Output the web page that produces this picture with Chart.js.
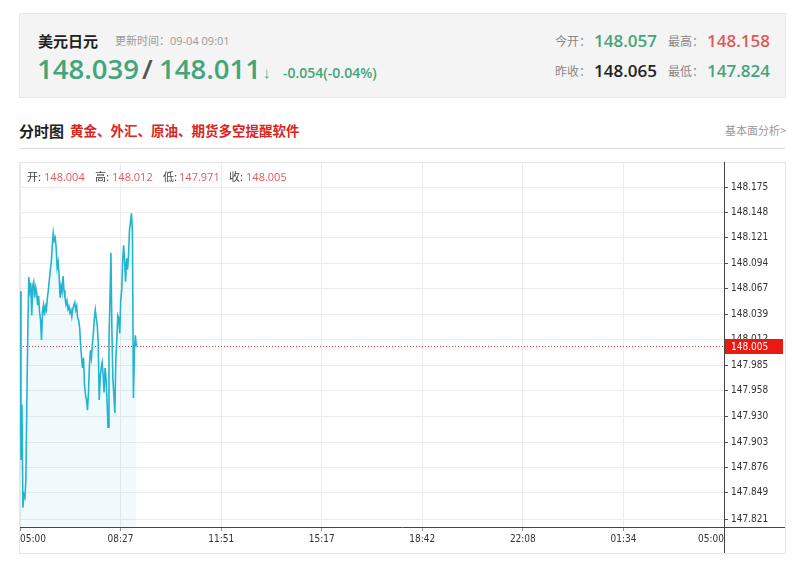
<!DOCTYPE html>
<html><head><meta charset="utf-8">
<script src="https://cdn.jsdelivr.net/npm/chart.js@4/dist/chart.umd.min.js"></script>
<style>
html,body{margin:0;padding:0;background:#fff;width:800px;height:580px;overflow:hidden;position:relative;font-family:"Noto Sans CJK SC","Noto Sans",sans-serif;}
.a{position:absolute;white-space:nowrap;line-height:1;}
.num{font-family:"Open Sans","Noto Sans",sans-serif;font-weight:600;}
.g{color:#43a57b;}
.r{color:#e05a5a;}
.lbl{color:#888;font-size:12px;}
</style></head>
<body>
<div class="a" style="left:19px;top:13px;width:765px;height:83px;background:#f4f4f4;border:1px solid #e8e8e8;"></div>
<div class="a" style="left:38px;top:33px;font-size:15px;font-weight:700;color:#222;">美元日元</div>
<div class="a" style="left:115px;top:35px;font-size:11px;color:#999;">更新时间：<span style="font-family:'Open Sans',sans-serif">09-04 09:01</span></div>
<div class="a num g" style="left:37px;top:55px;font-size:27.5px;">148.039</div>
<div class="a num" style="left:142px;top:55px;font-size:27.5px;color:#555;">/</div>
<div class="a num g" style="left:159px;top:55px;font-size:27.5px;">148.011</div>
<div class="a num g" style="left:263px;top:65px;font-size:15px;">↓</div>
<div class="a num g" style="left:283px;top:66px;font-size:14px;">-0.054(-0.04%)</div>

<div class="a lbl" style="left:555px;top:35px;">今开：</div>
<div class="a num g" style="left:594px;top:32px;font-size:17px;">148.057</div>
<div class="a lbl" style="left:668px;top:35px;">最高：</div>
<div class="a num r" style="left:707px;top:32px;font-size:17px;">148.158</div>
<div class="a lbl" style="left:555px;top:65px;">昨收：</div>
<div class="a num" style="left:594px;top:62px;font-size:17px;color:#222;">148.065</div>
<div class="a lbl" style="left:668px;top:65px;">最低：</div>
<div class="a num g" style="left:707px;top:62px;font-size:17px;">147.824</div>

<div class="a" style="left:19px;top:123px;font-size:15px;font-weight:700;color:#222;">分时图</div>
<div class="a" style="left:70px;top:124px;font-size:13.5px;font-weight:700;color:#d9251d;">黄金、外汇、原油、期货多空提醒软件</div>
<div class="a" style="left:725px;top:125px;font-size:11px;color:#999;">基本面分析&gt;</div>
<div class="a" style="left:19px;top:148px;width:766px;height:1px;background:#dcdcdc;"></div>

<div class="a" style="left:19px;top:162px;width:765px;height:390px;border:1px solid #e6e6e6;"></div>
<canvas id="c" width="800" height="410" style="position:absolute;left:0;top:150px;width:800px;height:410px;"></canvas>
<div class="a" style="left:27px;top:171px;font-size:11px;color:#444;">开:<span class="r" style="font-family:'Open Sans',sans-serif;margin-left:3px">148.004</span></div>
<div class="a" style="left:95px;top:171px;font-size:11px;color:#444;">高:<span class="r" style="font-family:'Open Sans',sans-serif;margin-left:3px">148.012</span></div>
<div class="a" style="left:163px;top:171px;font-size:11px;color:#444;">低:<span class="r" style="font-family:'Open Sans',sans-serif;margin-left:2px">147.971</span></div>
<div class="a" style="left:229px;top:171px;font-size:11px;color:#444;">收:<span class="r" style="font-family:'Open Sans',sans-serif;margin-left:3px">148.005</span></div>

<script>
// Session: 05:00 to 05:00 next day, 1440 minutes; one sample every 2 minutes
const sessionMinutes = 1440;
const sampleStepMinutes = 2;
const xTickLabels = ['05:00','08:27','11:51','15:17','18:42','22:08','01:34','05:00'];
const yTickValues = [147.821,147.849,147.876,147.903,147.930,147.958,147.985,148.012,148.039,148.067,148.094,148.121,148.148,148.175];
const yMin = 147.8125;
const yMax = 148.2017;
const lastPrice = 148.005;
const prices = [
148.064,147.884,147.943,147.833,147.847,147.844,147.863,147.948,148.022,148.079,
148.065,148.073,148.038,148.070,148.074,148.057,148.068,148.063,148.049,148.059,
148.042,148.033,148.012,148.042,148.049,148.038,148.048,148.044,148.057,148.065,
148.076,148.087,148.095,148.113,148.126,148.118,148.121,148.110,148.089,148.095,
148.081,148.057,148.069,148.063,148.080,148.065,148.057,148.050,148.054,148.045,
148.048,148.041,148.044,148.037,148.045,148.049,148.052,148.044,148.048,148.035,
148.033,148.025,148.007,147.993,147.982,147.993,147.964,147.953,147.948,147.937,
147.956,147.985,148.001,147.993,148.007,148.019,148.035,148.044,148.035,148.028,
148.010,147.948,147.971,147.982,147.988,147.975,147.956,147.982,147.971,147.948,
147.919,148.012,148.054,148.105,148.022,147.971,147.953,147.934,147.991,148.012,
148.038,148.035,148.019,148.054,148.065,148.097,148.113,148.095,148.074,148.099,
148.087,148.102,148.129,148.138,148.147,148.127,147.950,148.001,148.017,148.005
];

const linePoints = prices.map((p, i) => ({x: i * sampleStepMinutes, y: p}));
const refPoints = [{x: 0, y: lastPrice}, {x: sessionMinutes, y: lastPrice}];
const axisFont = {family: "'DejaVu Sans Condensed','DejaVu Sans',sans-serif", size: 10};

const extras = {
  id: 'extras',
  afterDraw(chart) {
    const {ctx, chartArea: a, scales: {y}} = chart;
    ctx.save();
    ctx.strokeStyle = '#444';
    ctx.lineWidth = 1;
    ctx.beginPath();
    ctx.moveTo(Math.round(a.right) + 0.5, a.top);
    ctx.lineTo(Math.round(a.right) + 0.5, a.bottom + 26);
    ctx.moveTo(a.left, Math.round(a.bottom) + 0.5);
    ctx.lineTo(785, Math.round(a.bottom) + 0.5);
    ctx.stroke();
    const py = Math.round(y.getPixelForValue(lastPrice));
    ctx.fillStyle = '#ea1a12';
    ctx.fillRect(Math.round(a.right) + 1, py - 7, 58, 15);
    ctx.fillStyle = '#fff';
    ctx.font = "10px 'DejaVu Sans Condensed','DejaVu Sans',sans-serif";
    ctx.textBaseline = 'middle';
    ctx.fillText(lastPrice.toFixed(3), Math.round(a.right) + 7, py + 1);
    ctx.restore();
  }
};

new Chart(document.getElementById('c'), {
  type: 'line',
  data: {
    datasets: [
      {data: linePoints, borderColor: '#22b4d1', borderWidth: 1.6, pointRadius: 0, tension: 0,
       fill: 'start', backgroundColor: 'rgba(40,180,215,0.07)'},
      {data: refPoints, borderColor: '#e8382f', borderWidth: 1, borderDash: [1, 2], pointRadius: 0, fill: false}
    ]
  },
  options: {
    responsive: false,
    animation: false,
    devicePixelRatio: 1,
    layout: {padding: {left: 20, top: 12, right: 0, bottom: 7}},
    plugins: {legend: {display: false}, tooltip: {enabled: false}},
    scales: {
      x: {
        type: 'linear', min: 0, max: sessionMinutes,
        afterBuildTicks(s) { s.ticks = xTickLabels.map((_, i) => ({value: i * sessionMinutes / (xTickLabels.length - 1)})); },
        afterFit(s) { s.height = 26; },
        ticks: {autoSkip: false, maxRotation: 0, align: 'inner', padding: 2, color: '#333', font: axisFont,
                callback: (v, i) => xTickLabels[i]},
        grid: {color: '#ececec', tickColor: '#999', tickLength: 4, drawTicks: true},
        border: {display: false}
      },
      y: {
        type: 'linear', position: 'right', min: yMin, max: yMax,
        afterBuildTicks(s) { s.ticks = yTickValues.map(v => ({value: v})); },
        afterFit(s) { s.width = 76; },
        ticks: {autoSkip: false, padding: 3, color: '#333', font: axisFont, callback: v => v.toFixed(3)},
        grid: {color: '#ececec', tickColor: '#555', tickLength: 4},
        border: {display: false}
      }
    }
  },
  plugins: [extras]
});
</script>
</body></html>
